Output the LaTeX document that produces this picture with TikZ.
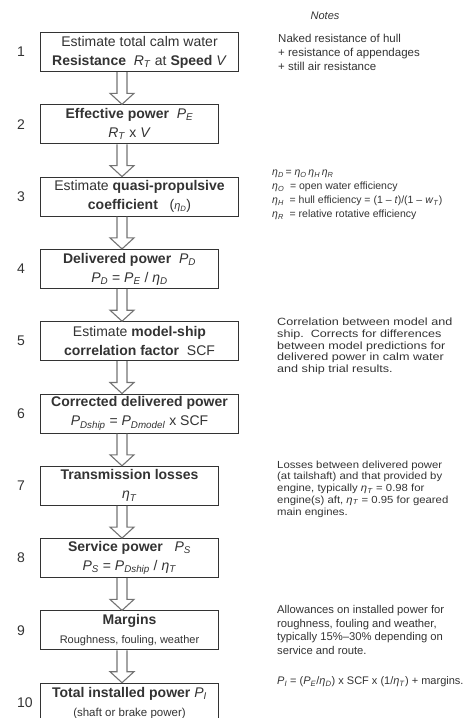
\documentclass[tikz,border=0pt]{standalone}
\usepackage{fontspec}
\setmainfont{Liberation Sans}
\newfontfamily\widefont{Liberation Sans}[FakeStretch=1.2]
\newfontfamily\semiwidefont{Liberation Sans}[FakeStretch=1.1]
\usetikzlibrary{calc}

\colorlet{ink}{black!80}
\colorlet{arrowgray}{black!55}
\newcommand{\sym}[2]{\textit{#1}\textsubscript{\textit{#2}}}

\tikzset{
    stepbox/.style={draw=ink, line width=1pt, fill=white, minimum height=39pt, inner sep=0pt,
        anchor=west, align=center, text=ink, font=\fontsize{14}{19}\selectfont},
    widebox/.style={stepbox, minimum width=198pt},
    narrowbox/.style={stepbox, minimum width=178pt},
    stepnum/.style={anchor=west, inner sep=0pt, text=ink, font=\fontsize{14}{16}\selectfont},
    note/.style={anchor=west, align=left, inner sep=0pt, text=ink, font=\fontsize{11.5}{14}\selectfont},
    blockarrow/.style={draw=arrowgray, line width=1.1pt, line join=miter}
}

\begin{document}
\begin{tikzpicture}[x=1pt, y=-1pt]
    \useasboundingbox (0,0) rectangle (465,718); % page as large as the reference
    \coordinate (ax) at (122,0); % axis of the block arrows

    % steps
    \node [widebox] (s1) at (40,52) {Estimate total calm water\\\textbf{Resistance}\ \ \sym{R}{T} at \textbf{Speed} \textit{V}};
    \node [narrowbox] (s2) at (40,124.3) {\textbf{Effective power}\ \ \sym{P}{E}\\\sym{R}{T} x \textit{V}};
    \node [widebox] (s3) at (40,196.6) {Estimate \textbf{quasi-propulsive}\\\textbf{coefficient}\ \ \ ({\fontsize{11}{13}\selectfont\sym{η}{D}})};
    \node [narrowbox] (s4) at (40,268.9) {\textbf{Delivered power}\ \ \sym{P}{D}\\\sym{P}{D} = \sym{P}{E} / \sym{η}{D}};
    \node [widebox] (s5) at (40,341.2) {Estimate \textbf{model-ship}\\\textbf{correlation factor}\ \ SCF};
    \node [widebox] (s6) at (40,413.5) {\textbf{Corrected delivered power}\\\sym{P}{Dship} = \sym{P}{Dmodel} x SCF};
    \node [narrowbox] (s7) at (40,485.8) {\textbf{Transmission losses}\\\sym{η}{T}};
    \node [narrowbox] (s8) at (40,558.1) {\textbf{Service power}\ \ \ \sym{P}{S}\\\sym{P}{S} = \sym{P}{Dship} / \sym{η}{T}};
    \node [narrowbox] (s9) at (40,630.4) {\textbf{Margins}\\{\fontsize{11}{13}\selectfont Roughness, fouling, weather}};
    \node [narrowbox] (s10) at (40,702.7) {\textbf{Total installed power} \sym{P}{I}\\{\fontsize{11.5}{13}\selectfont (shaft or brake power)}};

    % step numbers
    \foreach \i in {1,...,10}
        \node [stepnum] (n\i) at (17,{52+72.3*(\i-1)}) {\i};

    % block arrows between the steps
    \foreach \i [evaluate=\i as \j using int(\i+1)] in {1,...,9} {
        \coordinate (shaft) at (s\i.south -| ax);
        \coordinate (tip) at (s\j.north -| ax);
        \draw [blockarrow] ($(shaft)+(-5,0)$) -- ($(tip)+(-5,-11)$) -- ($(tip)+(-12,-11)$) -- (tip)
            -- ($(tip)+(12,-11)$) -- ($(tip)+(5,-11)$) -- ($(shaft)+(5,0)$);
    }

    % notes column
    \node [text=ink, font=\fontsize{11}{13}\selectfont\itshape] (head) at (325,16) {Notes};
    \node [note] (note1) at (278,52) {Naked resistance of hull\\+ resistance of appendages\\+ still air resistance};
    \node [note, font=\fontsize{10.5}{14}\selectfont] (note3) at (272,195) {\sym{η}{D}\,= \sym{η}{O}\,\sym{η}{H}\,\sym{η}{R}\\
        \sym{η}{O}\ \ = open water efficiency\\
        \sym{η}{H}\ \ = hull efficiency = (1 – \textit{t})/(1 – \sym{w}{T})\\
        \sym{η}{R}\ \ = relative rotative efficiency};
    \node [note, font=\widefont\fontsize{10.5}{11.7}\selectfont] (note5) at (277,346.5) {Correlation between model and\\ship.\ \ Corrects for differences\\between model predictions for\\delivered power in calm water\\and ship trial results.};
    \node [note, font=\semiwidefont\fontsize{10.3}{11.7}\selectfont] (note7) at (277,489) {Losses between delivered power\\(at tailshaft) and that provided by\\engine, typically \sym{η}{T} = 0.98 for\\engine(s) aft, \sym{η}{T} = 0.95 for geared\\main engines.};
    \node [note, font=\fontsize{11.25}{13.7}\selectfont] (note9) at (277,630) {Allowances on installed power for\\roughness, fouling and weather,\\typically 15\%–30\% depending on\\service and route.};
    \node [note, font=\fontsize{11}{13}\selectfont] (note10) at (277,682) {\sym{P}{I} = (\sym{P}{E}/\sym{η}{D}) x SCF x (1/\sym{η}{T}) + margins.};
\end{tikzpicture}
\end{document}
